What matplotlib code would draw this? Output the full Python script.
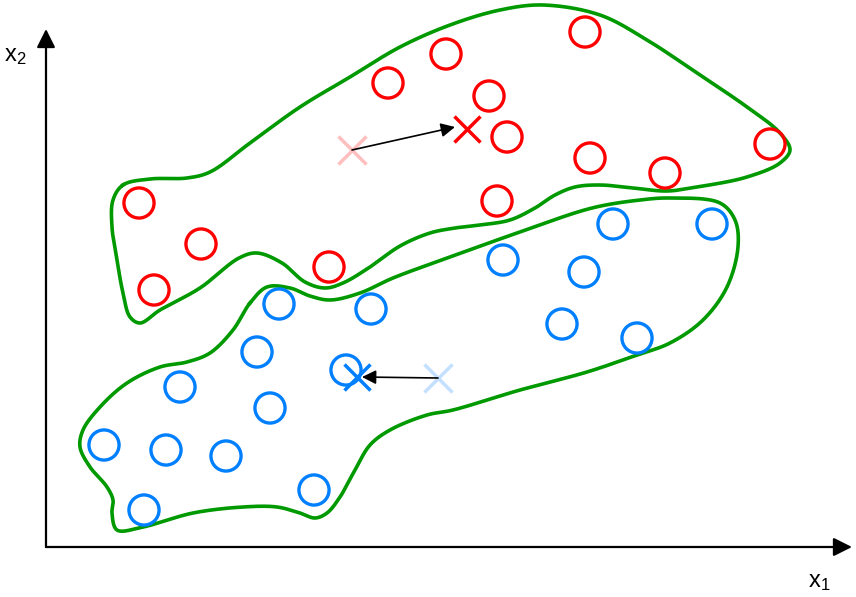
import matplotlib.pyplot as plt
import numpy as np

plt.rcParams['font.family'] = ['Liberation Sans', 'DejaVu Sans']
plt.rcParams['mathtext.fontset'] = 'custom'
plt.rcParams['mathtext.rm'] = 'Liberation Sans'

# data coords: origin at the axis corner, y grows upwards
red_x = [539, 400, 342, 443, 461, 724, 544, 619, 451, 93, 155, 283, 108]
red_y = [515, 493, 464, 451, 410, 403, 389, 374, 346, 344, 303, 280, 257]
blue_x = [567, 666, 457, 538, 233, 325, 516, 591, 211, 300, 134, 224, 58, 120, 180, 268, 98]
blue_y = [323, 323, 287, 275, 243, 238, 223, 209, 195, 177, 160, 139, 102, 97, 91, 57, 37]

# centroids: old -> new
red_old, red_new = (306, 397), (421, 418)
blue_old, blue_new = (392, 169), (311, 170)

# hand-traced cluster outlines
red_hull_x = [77, 104, 141, 164, 204, 254, 304, 354, 404, 454, 497, 554, 601, 651, 701, 734,
              744, 734, 701, 651, 621, 587, 554, 529, 509, 489, 464, 434, 409, 384, 354, 324,
              297, 279, 259, 236, 211, 193, 154, 114, 94, 84, 77, 71, 66, 67]
red_hull_y = [362, 368, 369, 375, 404, 440, 470, 500, 522, 537, 542, 532, 507, 474, 440, 414,
              397, 384, 370, 360, 356, 359, 362, 360, 352, 339, 327, 322, 319, 314, 301, 280,
              264, 259, 265, 284, 294, 289, 259, 237, 224, 230, 254, 287, 320, 347]
blue_hull_x = [204, 221, 244, 264, 284, 314, 347, 404, 474, 546, 594, 624, 674, 689, 692, 681,
               657, 624, 591, 541, 474, 407, 381, 344, 324, 309, 294, 281, 269, 254, 231, 197,
               147, 97, 71, 66, 67, 61, 44, 34, 37, 54, 81, 114, 141, 164, 187]
blue_hull_y = [244, 260, 259, 251, 247, 254, 269, 290, 315, 339, 347, 349, 344, 327, 300, 260,
               227, 204, 192, 175, 157, 137, 132, 117, 102, 77, 50, 34, 29, 34, 40, 40,
               34, 20, 17, 34, 47, 60, 80, 100, 117, 140, 164, 180, 185, 194, 217]


def closed_spline(xs, ys, n=30):
    # centripetal catmull-rom through the traced points
    p = np.column_stack([xs, ys]).astype(float)
    m = len(p)
    out = []
    for i in range(m):
        p0, p1, p2, p3 = p[i - 1], p[i], p[(i + 1) % m], p[(i + 2) % m]
        t0 = 0.0
        t1 = t0 + np.linalg.norm(p1 - p0) ** 0.5
        t2 = t1 + np.linalg.norm(p2 - p1) ** 0.5
        t3 = t2 + np.linalg.norm(p3 - p2) ** 0.5
        t = np.linspace(t1, t2, n, endpoint=False)[:, None]
        a1 = (t1 - t) / (t1 - t0) * p0 + (t - t0) / (t1 - t0) * p1
        a2 = (t2 - t) / (t2 - t1) * p1 + (t - t1) / (t2 - t1) * p2
        a3 = (t3 - t) / (t3 - t2) * p2 + (t - t2) / (t3 - t2) * p3
        b1 = (t2 - t) / (t2 - t0) * a1 + (t - t0) / (t2 - t0) * a2
        b2 = (t3 - t) / (t3 - t1) * a2 + (t - t1) / (t3 - t1) * a3
        out.append((t2 - t) / (t2 - t1) * b1 + (t - t1) / (t2 - t1) * b2)
    c = np.vstack(out + [out[0][:1]])
    return c[:, 0], c[:, 1]


fig = plt.figure(figsize=(8.56, 5.97), dpi=100)
ax = fig.add_axes([0, 0, 1, 1])
ax.set_xlim(-46, 810)
ax.set_ylim(-50, 547)
ax.axis('off')

green = '#009900'
for hx, hy in [(red_hull_x, red_hull_y), (blue_hull_x, blue_hull_y)]:
    cx, cy = closed_spline(hx, hy)
    ax.plot(cx, cy, color=green, lw=2.6, zorder=1)

ax.scatter(red_x, red_y, s=470, facecolors='none', edgecolors='#FF0000', linewidths=2.4, zorder=3)
ax.scatter(blue_x, blue_y, s=470, facecolors='none', edgecolors='#007FFF', linewidths=2.4, zorder=3)

ax.plot(*red_old, marker='x', ms=20, mew=2.5, color='#FFBFBF', zorder=2)
ax.plot(*blue_old, marker='x', ms=20, mew=2.5, color='#C4E0FF', zorder=2)
ax.plot(*red_new, marker='x', ms=19, mew=2.5, color='#FF0000', zorder=4)
ax.plot(*blue_new, marker='x', ms=19, mew=2.5, color='#007FFF', zorder=4)

arrow = dict(arrowstyle='-|>', color='black', lw=1.2, mutation_scale=21, shrinkA=0, shrinkB=0)
ax.annotate('', xy=(red_new[0] - 12, red_new[1] + 2), xytext=red_old, arrowprops=arrow, zorder=5)
ax.annotate('', xy=(blue_new[0] + 5, blue_new[1]), xytext=blue_old, arrowprops=arrow, zorder=5)

# coordinate axes
axis_arrow = dict(arrowstyle='-|>', color='black', lw=1.6, mutation_scale=28, shrinkA=0, shrinkB=0)
ax.annotate('', xy=(806, 0), xytext=(0, 0), arrowprops=axis_arrow)
ax.annotate('', xy=(0, 518), xytext=(0, 0), arrowprops=axis_arrow)
ax.text(-42, 491, r'$\mathregular{x_2}$', fontsize=17, ha='left', va='center')
ax.text(762, -35, r'$\mathregular{x_1}$', fontsize=17, ha='left', va='center')

fig.savefig('out.png', dpi=100)
